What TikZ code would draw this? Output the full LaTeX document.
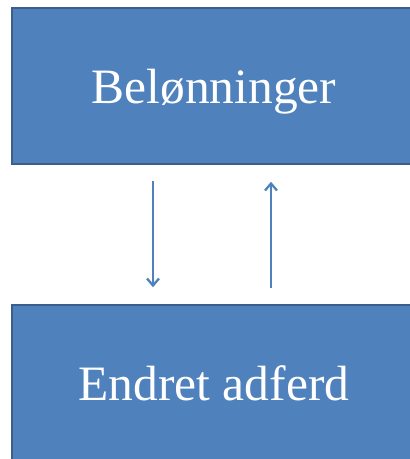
\documentclass[tikz,border=0pt]{standalone}
\usepackage{fontspec}
\setmainfont{Liberation Serif}
\usetikzlibrary{arrows.meta}
\definecolor{boxfill}{HTML}{4F81BD}
\definecolor{boxline}{HTML}{3A5F8C}
\begin{document}
\begin{tikzpicture}[x=1pt,y=-1pt,
  blk/.style={draw=boxline,line width=1.5pt,fill=boxfill,text=white,
    minimum width=404pt,minimum height=156pt,inner sep=0pt,
    font=\fontsize{49.5}{56}\selectfont,text height=34pt,text depth=0pt},
  arr/.style={draw=boxfill,line width=2.3pt,-{Straight Barb[length=7pt,width=12pt]}}]
\useasboundingbox (0,0) rectangle (410,459);
\node[blk] (top) at (214,86) {Belønninger};
\node[blk] (bot) at (214,383) {Endret adferd};
\draw[arr,shorten <=16pt,shorten >=17pt] ([xshift=-61pt]top.south) -- ([xshift=-61pt]bot.north);
\draw[arr,shorten <=16pt,shorten >=17pt] ([xshift=57pt]bot.north) -- ([xshift=57pt]top.south);
\end{tikzpicture}
\end{document}
